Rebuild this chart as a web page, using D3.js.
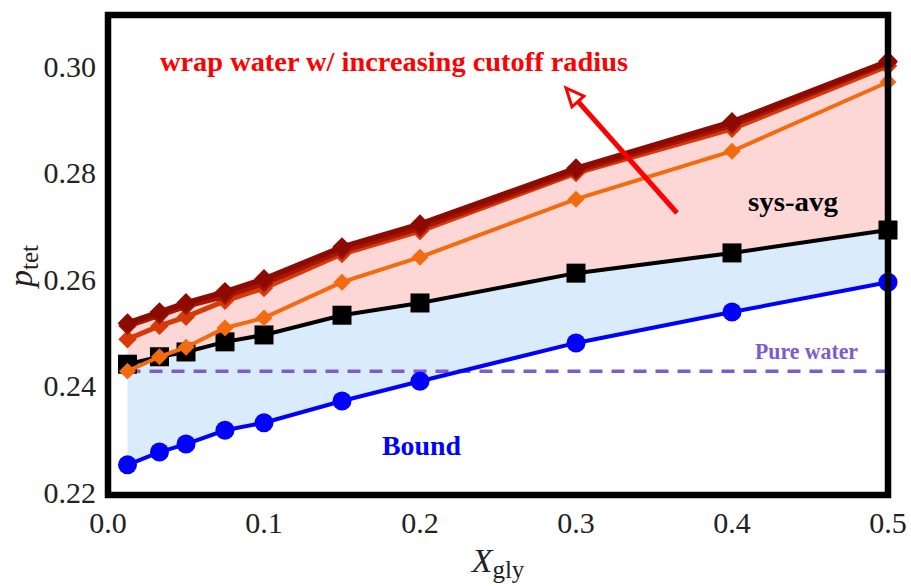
<!DOCTYPE html>
<html>
<head>
<meta charset="utf-8">
<script src="https://cdn.jsdelivr.net/npm/d3@7"></script>
<style>
  html, body { margin: 0; padding: 0; background: #fff; }
  svg { display: block; }
</style>
</head>
<body>
<svg id="chart" width="911" height="586" font-family="'Liberation Serif', 'Times New Roman', Times, serif"></svg>
<script>
// ---- data ----
const xGly = [0.0125, 0.033, 0.05, 0.075, 0.1, 0.15, 0.2, 0.3, 0.4, 0.5];
const bound = [0.2251, 0.2275, 0.2290, 0.2316, 0.2330, 0.2371, 0.2408, 0.2480, 0.2538, 0.2594];
const sysAvg = [0.2440, 0.2454, 0.2463, 0.2482, 0.2495, 0.2532, 0.2555, 0.2611, 0.2649, 0.2692];
const wrapOrange = [0.2427, 0.2454, 0.2472, 0.2508, 0.2527, 0.2594, 0.2641, 0.2750, 0.2840, 0.2970];
const wrapRedOrange = [0.2487, 0.2512, 0.2529, 0.2559, 0.2583, 0.2647, 0.2690, 0.2799, 0.2882, 0.3000];
const wrapDarkRed = [0.2512, 0.2532, 0.2549, 0.2568, 0.2592, 0.2653, 0.2696, 0.2803, 0.2889, 0.3006];
const wrapDarkest = [0.2517, 0.2538, 0.2555, 0.2576, 0.2600, 0.2660, 0.2703, 0.2808, 0.2895, 0.3009];
const pureWater = 0.2427;
const xTicks = [0.0, 0.1, 0.2, 0.3, 0.4, 0.5];
const yTicks = [0.22, 0.24, 0.26, 0.28, 0.30];

// ---- layout ----
const FONT = "'Liberation Serif', 'Times New Roman', Times, serif";
const svg = d3.select("#chart");
const L = 108, R = 888, T = 15, B = 495;
const x = d3.scaleLinear().domain([0, 0.5]).range([L, R]);
const y = d3.scaleLinear().domain([0.21944, 0.30958]).range([B, T]);

const pts = vals => xGly.map((xv, i) => [xv, vals[i]]);
const line = d3.line().x(d => x(d[0])).y(d => y(d[1]));

// fills
const areaBetween = (lo, hi) => d3.area()
  .x((d, i) => x(xGly[i]))
  .y0((d, i) => y(lo[i]))
  .y1((d, i) => y(hi[i]));
svg.append("path").datum(xGly).attr("d", areaBetween(sysAvg, wrapDarkest))
  .attr("fill", "#fdd6d6");
svg.append("path").datum(xGly).attr("d", areaBetween(bound, sysAvg))
  .attr("fill", "#daecfb");

// pure water dashed
svg.append("line")
  .attr("x1", x(xGly[0])).attr("x2", x(0.5))
  .attr("y1", y(pureWater)).attr("y2", y(pureWater))
  .attr("stroke", "#7b5cd0").attr("stroke-width", 3.5)
  .attr("stroke-dasharray", "13,9");

function diamond(g, data, color, size) {
  g.selectAll(null).data(data).enter().append("path")
    .attr("transform", d => `translate(${x(d[0])},${y(d[1])}) rotate(45)`)
    .attr("d", `M${-size/2},${-size/2}h${size}v${size}h${-size}Z`)
    .attr("fill", color);
}

// bound
const gB = svg.append("g");
gB.append("path").datum(pts(bound)).attr("d", line)
  .attr("fill", "none").attr("stroke", "#0000ff").attr("stroke-width", 4);
gB.selectAll(null).data(pts(bound)).enter().append("circle")
  .attr("cx", d => x(d[0])).attr("cy", d => y(d[1])).attr("r", 9.5)
  .attr("fill", "#0000ff");

// sys-avg
const gS = svg.append("g");
gS.append("path").datum(pts(sysAvg)).attr("d", line)
  .attr("fill", "none").attr("stroke", "#000").attr("stroke-width", 4);
gS.selectAll(null).data(pts(sysAvg)).enter().append("rect")
  .attr("x", d => x(d[0]) - 9.5).attr("y", d => y(d[1]) - 9.5)
  .attr("width", 19).attr("height", 19).attr("fill", "#000");

// wrap series
const wraps = [
  {vals: wrapOrange, color: "#f26b0f", w: 4, s: 12},
  {vals: wrapRedOrange, color: "#d63a08", w: 5, s: 13},
  {vals: wrapDarkRed, color: "#a81500", w: 5.5, s: 13},
  {vals: wrapDarkest, color: "#8c0a00", w: 5.5, s: 14}
];
wraps.forEach(wr => {
  const g = svg.append("g");
  g.append("path").datum(pts(wr.vals)).attr("d", line)
    .attr("fill", "none").attr("stroke", wr.color).attr("stroke-width", wr.w);
  diamond(g, pts(wr.vals), wr.color, wr.s);
});

// frame
svg.append("rect").attr("x", L).attr("y", T).attr("width", R - L).attr("height", B - T)
  .attr("fill", "none").attr("stroke", "#000").attr("stroke-width", 6.5);

// ticks
svg.append("g").selectAll("text").data(yTicks).enter().append("text")
  .attr("font-family", FONT)
  .attr("x", 96).attr("y", d => y(d)).attr("dy", "0.35em")
  .attr("text-anchor", "end").attr("font-size", 30).attr("fill", "#222")
  .text(d => d.toFixed(2));
svg.append("g").selectAll("text").data(xTicks).enter().append("text")
  .attr("font-family", FONT)
  .attr("x", d => x(d)).attr("y", 533)
  .attr("text-anchor", "middle").attr("font-size", 30).attr("fill", "#222")
  .text(d => d.toFixed(1));

// axis titles
const xt = svg.append("text").attr("font-family", FONT)
  .attr("x", 498).attr("y", 572).attr("text-anchor", "middle")
  .attr("font-size", 34).attr("fill", "#222");
xt.append("tspan").attr("font-style", "italic").text("X");
xt.append("tspan").attr("font-size", 25).attr("dy", 6).text("gly");

const yt = svg.append("text").attr("font-family", FONT)
  .attr("transform", "translate(32,266) rotate(-90)")
  .attr("text-anchor", "middle").attr("font-size", 34).attr("fill", "#222");
yt.append("tspan").attr("font-style", "italic").text("p");
yt.append("tspan").attr("font-size", 25).attr("dy", 6).text("tet");

// annotations
function note(tx, ty, str, color, size, width) {
  svg.append("text").attr("font-family", FONT)
    .attr("x", tx).attr("y", ty).attr("font-size", size)
    .attr("font-weight", "bold").attr("fill", color)
    .attr("textLength", width).attr("lengthAdjust", "spacingAndGlyphs")
    .text(str);
}
note(160, 71, "wrap water w/ increasing cutoff radius", "#ff0000", 27, 468);
note(748, 211, "sys-avg", "#000", 27, 90);
note(755, 359, "Pure water", "#7b5cd0", 24, 103);
note(382, 455, "Bound", "#0000ff", 27, 79);

// arrow
const ax1 = 677, ay1 = 213, ax2 = 566, ay2 = 88;
const ang = Math.atan2(ay2 - ay1, ax2 - ax1);
const hl = 18, hw = 8;
const bx = ax2 - hl * Math.cos(ang), by = ay2 - hl * Math.sin(ang);
svg.append("line").attr("x1", ax1).attr("y1", ay1).attr("x2", bx).attr("y2", by)
  .attr("stroke", "#ff0000").attr("stroke-width", 5);
svg.append("path")
  .attr("d", `M${ax2},${ay2}L${bx + hw*Math.sin(ang)},${by - hw*Math.cos(ang)}L${bx - hw*Math.sin(ang)},${by + hw*Math.cos(ang)}Z`)
  .attr("fill", "#fff").attr("stroke", "#ff0000").attr("stroke-width", 3);
</script>
</body>
</html>
